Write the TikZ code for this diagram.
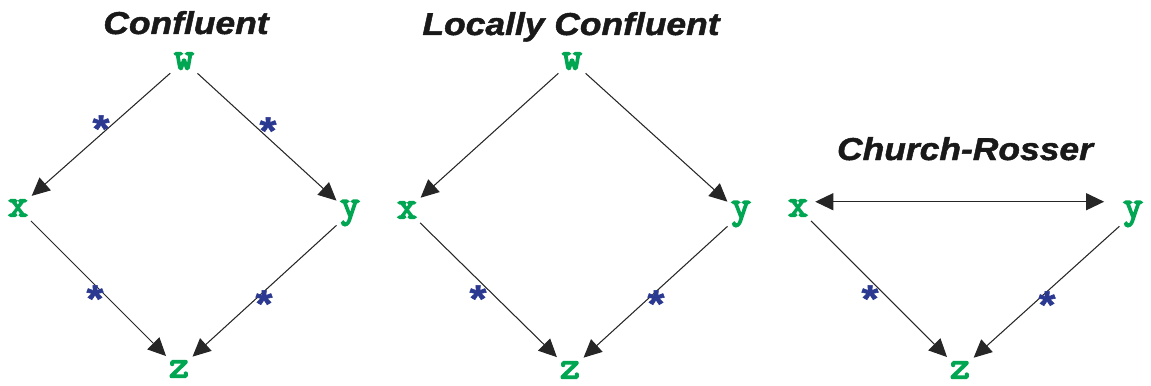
\documentclass[tikz,border=0pt]{standalone}
\usepackage{fontspec}
\usepackage{xcolor}
\usepackage{tikz}
\usetikzlibrary{arrows.meta,positioning,calc}
\newfontfamily\titlefont[FakeStretch=1.12, FakeBold=1.5]{Liberation Sans}
\newfontfamily\termfont[FakeBold=4]{Latin Modern Mono}
\definecolor{termgreen}{HTML}{00A651}
\definecolor{starblue}{HTML}{2B3990}
\definecolor{edgegray}{HTML}{262626}
\tikzset{
  titre/.style={anchor=base, inner sep=0pt, font=\titlefont\fontsize{18}{20}\selectfont\bfseries\itshape, text=black!90},
  term/.style={circle, inner sep=0pt, minimum size=0.72cm, text=termgreen,
               font=\termfont\fontsize{22}{24}\selectfont},
  etoile/.style={anchor=north, inner sep=0pt, text=starblue,
                 font=\titlefont\fontsize{22}{24}\selectfont\bfseries},
  arr/.style={-{Triangle[length=3.6mm, width=3.4mm]}, line width=0.6pt, draw=edgegray},
  biarr/.style={{Triangle[length=3.6mm, width=3.4mm]}-{Triangle[length=3.6mm, width=3.4mm]}, line width=0.6pt, draw=edgegray},
}
\begin{document}
\begin{tikzpicture}[x=0.02cm, y=-0.02cm]
  \useasboundingbox (0,0) rectangle (1151,385);
  % Confluent
  \node[titre] (t1) at (186,34) {Confluent};
  \node[term] (w1) at (184,61) {w};
  \node[term] (x1) at (18,208) {x};
  \node[term] (y1) at (350,213) {y};
  \node[term] (z1) at (179,369) {z};
  \draw[arr] (w1) -- (x1); \draw[arr] (w1) -- (y1);
  \draw[arr] (x1) -- (z1); \draw[arr] (y1) -- (z1);
  \node[etoile] (s11) at (101,115) {*};
  \node[etoile] (s12) at (268,117) {*};
  \node[etoile] (s13) at (95,285) {*};
  \node[etoile] (s14) at (264,290) {*};
  % Locally Confluent
  \node[titre] (t2) at (571,35) {Locally Confluent};
  \node[term] (w2) at (572,61) {w};
  \node[term] (x2) at (407,210) {x};
  \node[term] (y2) at (741,214) {y};
  \node[term] (z2) at (570,370) {z};
  \draw[arr] (w2) -- (x2); \draw[arr] (w2) -- (y2);
  \draw[arr] (x2) -- (z2); \draw[arr] (y2) -- (z2);
  \node[etoile] (s21) at (478,285) {*};
  \node[etoile] (s22) at (656,290) {*};
  % Church-Rosser
  \node[titre] (t3) at (965,160) {Church-Rosser};
  \node[term] (x3) at (798,208) {x};
  \node[term] (y3) at (1133,214) {y};
  \node[term] (z3) at (960,370) {z};
  \draw[biarr, shorten >=10\pgflinewidth] (x3.20) -- (x3.20 -| y3.west);
  \draw[arr] (x3) -- (z3); \draw[arr] (y3) -- (z3);
  \node[etoile] (s31) at (870,285) {*};
  \node[etoile] (s32) at (1047,291) {*};
\end{tikzpicture}
\end{document}
